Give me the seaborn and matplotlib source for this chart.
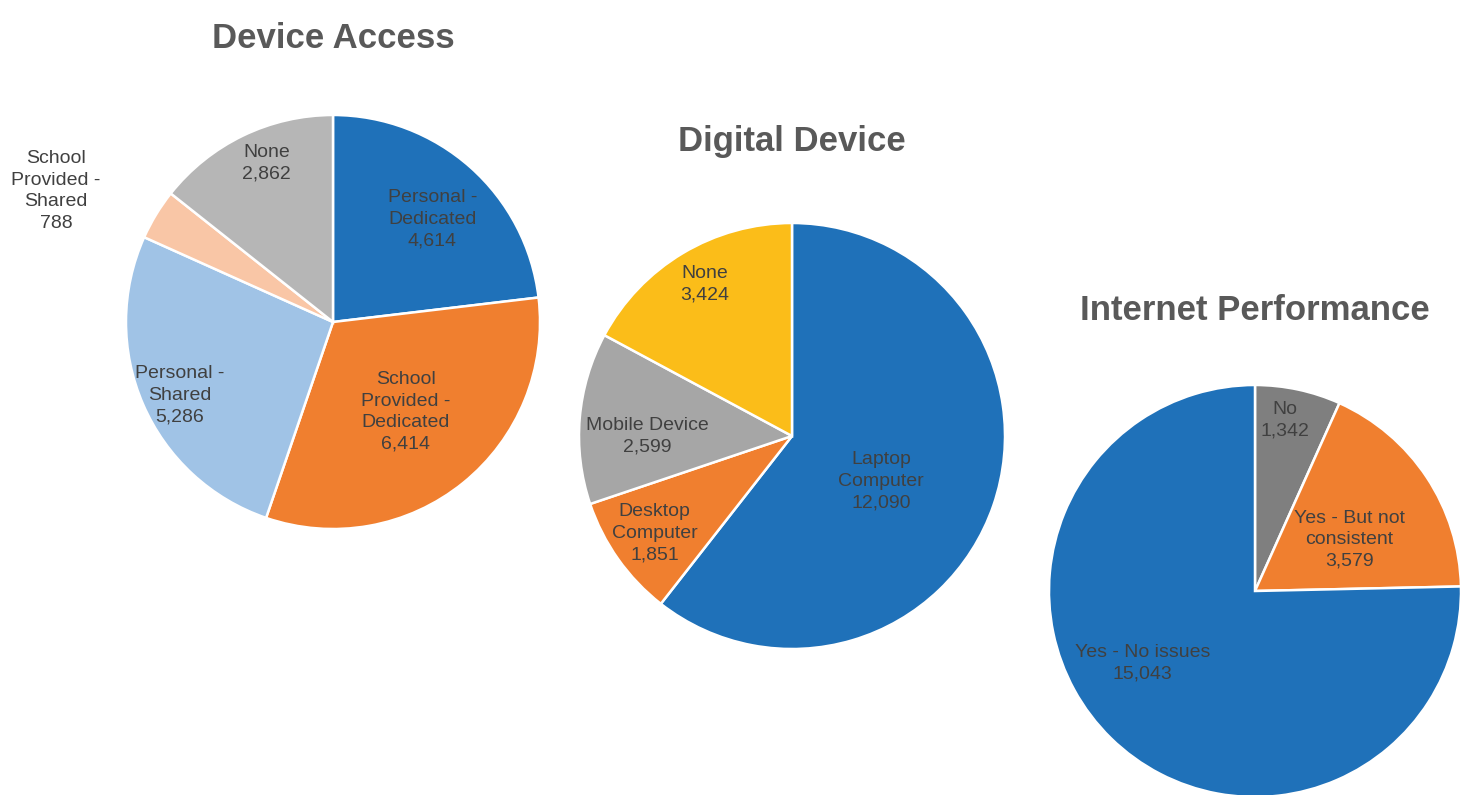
import numpy as np
import matplotlib
matplotlib.use("Agg")
import matplotlib.pyplot as plt
import seaborn as sns

# ---- data ----
access_labels = ["Personal -\nDedicated", "School\nProvided -\nDedicated", "Personal -\nShared",
                 "School\nProvided -\nShared", "None"]
access_values = [4614, 6414, 5286, 788, 2862]

digital_labels = ["Laptop\nComputer", "Desktop\nComputer", "Mobile Device", "None"]
digital_values = [12090, 1851, 2599, 3424]

internet_labels = ["No", "Yes - But not\nconsistent", "Yes - No issues"]
internet_values = [1342, 3579, 15043]

titles = ["Device Access", "Digital Device", "Internet Performance"]

# ---- style ----
sns.set_theme(style="white")
plt.rcParams['font.family'] = ['Liberation Sans', 'DejaVu Sans']

BLUE = "#1f71b9"
ORANGE = "#f07f2f"
access_colors = [BLUE, ORANGE, "#a0c3e6", "#f9c6a6", "#b6b6b6"]
digital_colors = [BLUE, ORANGE, "#a6a6a6", "#fbbd19"]
internet_colors = ["#7f7f7f", ORANGE, BLUE]

W, H = 1468, 795
fig = plt.figure(figsize=(W / 100, H / 100), dpi=100)
fig.patch.set_facecolor("white")

TEXT = "#404040"
TITLE = "#595959"


def draw_pie(cx, cy, r, values, labels, colors, dists, angadj):
    ax = fig.add_axes([(cx - r) / W, (H - cy - r) / H, 2 * r / W, 2 * r / H])
    wedges, _ = ax.pie(values, colors=colors, startangle=90, counterclock=False, radius=1,
                       wedgeprops=dict(edgecolor="white", linewidth=1.8))
    ax.set_xlim(-1, 1)
    ax.set_ylim(-1, 1)
    ax.set_aspect("equal")
    ax.axis("off")
    for w, lab, v, d, da in zip(wedges, labels, values, dists, angadj):
        mid = np.deg2rad((w.theta1 + w.theta2) / 2 + da)
        ax.text(d * np.cos(mid), d * np.sin(mid), f"{lab}\n{v:,}", ha="center", va="center",
                fontsize=14, color=TEXT, linespacing=1.35, clip_on=False)
    return ax


draw_pie(333, 322, 207, access_values, access_labels, access_colors,
         [0.69, 0.56, 0.82, 1.48, 0.83], [-2.5, 0, 2, 6, -3])
draw_pie(792, 436, 213, digital_values, digital_labels, digital_colors,
         [0.47, 0.79, 0.68, 0.82], [-8, 0, 5, -1])
draw_pie(1255, 591, 206, internet_values, internet_labels, internet_colors,
         [0.84, 0.52, 0.65], [2, -5, -13])

for (x, y), t in zip([(333, 38), (792, 142), (1255, 310)], titles):
    fig.text(x / W, 1 - y / H, t, ha="center", va="center", fontsize=25,
             fontweight="bold", color=TITLE)

fig.savefig("out.png", dpi=100, facecolor="white")
